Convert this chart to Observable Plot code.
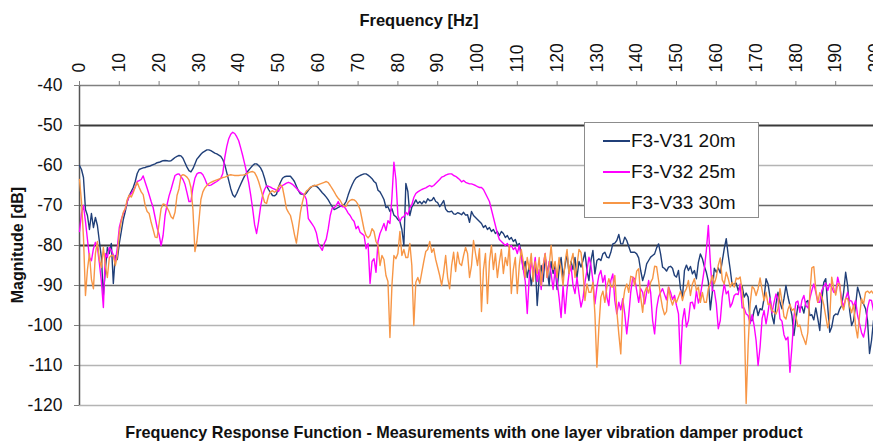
<!DOCTYPE html>
<html><head><meta charset="utf-8">
<script src="https://cdn.jsdelivr.net/npm/d3@7"></script>
<script src="https://cdn.jsdelivr.net/npm/@observablehq/plot@0.6"></script>
<style>
html,body{margin:0;padding:0;background:#fff;overflow:hidden;}
#wrap{position:relative;width:873px;height:441px;font-family:"Liberation Sans",Arial,sans-serif;color:#111;overflow:hidden;}
#chart svg{display:block;}
.lbl{position:absolute;font-weight:bold;line-height:1;white-space:nowrap;text-align:center;}
#title{left:319px;width:200px;top:12px;font-size:16.5px;}
#ylabel{left:-82px;width:200px;top:235px;height:20px;line-height:20px;font-size:16px;transform:rotate(-90deg);transform-origin:100px 10px;}
#caption{left:14px;width:900px;top:424px;font-size:16.2px;}
#legend{position:absolute;left:584px;top:122px;width:175px;height:96px;border:1px solid #8c8c8c;background:#fff;box-sizing:border-box;}
.item{position:absolute;left:0;height:22px;line-height:22px;font-size:19px;white-space:nowrap;}
.item span.sw{position:absolute;left:18px;top:10px;width:27px;height:1.6px;}
.item span.tx{position:absolute;left:46px;top:0;}
</style></head><body>
<div id="wrap"><div id="chart"></div>
<div class="lbl" id="title">Frequency [Hz]</div>
<div class="lbl" id="ylabel">Magnitude [dB]</div>
<div class="lbl" id="caption">Frequency Response Function - Measurements with one layer vibration damper product</div>
<div id="legend"></div></div>
<script>
const seriesNames = ["F3-V31 20m", "F3-V32 25m", "F3-V33 30m"];
const seriesColors = ["#203F78", "#FF00FF", "#F79646"];
const xTicks = [0,10,20,30,40,50,60,70,80,90,100,110,120,130,140,150,160,170,180,190,200];
const yTicks = [-40,-50,-60,-70,-80,-90,-100,-110,-120];
const freqStep = 0.5; // Hz between samples, first sample at 0 Hz

const v31 = [
-60,-61,-63,-71,-72.5,-76,-72,-75.5,-73,-75,-79,-83,-92.5,-86,-80.5,-82,-79.5,-89.5,-82.5,-83.5,
-79.5,-76.5,-73.5,-71.5,-69,-67.5,-66.5,-65.5,-64,-62,-61,-60.8,-60.6,-60.5,-60.3,-60.2,-60,-59.8,-59.6,-59.3,
-59.2,-59,-58.8,-58.75,-58.8,-58.9,-58.8,-58.4,-58,-57.7,-57.5,-57.6,-58.2,-59.3,-60.4,-61.3,-61.6,-60.8,-59.6,-58.4,
-57.8,-57.2,-56.7,-56.4,-56.1,-56.1,-56.3,-56.6,-56.9,-57.1,-57.4,-57.7,-58.5,-59.8,-61.8,-63.8,-65.8,-67.3,-67.9,-67,
-65.8,-64.7,-63.6,-62.6,-61.8,-61.2,-60.6,-60,-59.6,-59.6,-60,-60.6,-61.6,-63.2,-65.1,-66,-66.8,-67.5,-67.6,-67.2,
-65.4,-64.2,-63.2,-62.8,-62.7,-62.7,-62.7,-63.3,-64,-65.2,-66.3,-67.1,-67.2,-67.3,-66.9,-66.2,-65.6,-65.2,-65,-65.2,
-65.6,-66.2,-66.8,-67.3,-67.9,-68.6,-69.5,-70.3,-71,-70.8,-70.5,-70.2,-70,-69.8,-69,-67.4,-66,-64.8,-63.8,-63.1,
-62.8,-62.5,-62.3,-62.1,-62.1,-62.4,-62.8,-63.3,-64,-64.4,-66.2,-66.6,-67.5,-68.5,-70.5,-70.3,-71.5,-70.8,-72.4,-72.8,
-73.5,-74,-76,-80,-64.5,-66.5,-72.5,-70.4,-69.6,-68.6,-69.5,-69,-69.6,-68.9,-69.4,-68.3,-68.8,-68.7,-68,-69,
-69.3,-70.3,-69.6,-68.75,-70.9,-71.5,-71.6,-71.4,-72.1,-72.2,-71.8,-72,-72.3,-71.7,-72.4,-72.3,-74.2,-71.5,-72.5,-73,
-73.5,-74,-74.5,-75.5,-75,-76,-75.5,-76.5,-76,-77,-76.5,-77.5,-76.5,-77,-78,-77.5,-78.5,-78,-79,-78.5,
-80,-79.5,-82,-86,-84,-88,-85,-90,-87,-84,-95,-88,-85,-89,-83,-86,-90,-84,-87,-85,
-91,-86,-83,-88,-85,-82,-87,-84,-86,-83,-88,-84,-85.4,-83.75,-81.7,-86.25,-88.75,-83.75,-81.25,-87.1,
-83.75,-83.3,-83.75,-82.1,-81.7,-82.9,-83.1,-81.7,-79.6,-79.4,-78.75,-77.25,-79.6,-79.6,-77.9,-78.75,-80.25,-81.7,-81.7,-81.7,
-82.1,-83.1,-86.25,-88.75,-87.1,-84.6,-83.75,-82.9,-82.5,-82.1,-80.6,-79.6,-82.1,-85.4,-85.75,-86.4,-85.4,-85.2,-85.7,-87.5,
-87.9,-86.25,-90.8,-92.9,-86.25,-84.9,-86.25,-85.25,-87.1,-86.25,-88.3,-84.2,-82.1,-83.3,-85.25,-86.7,-89,-96.1,-91.7,-85.7,
-86.7,-85.6,-86.9,-83.9,-80.8,-78.3,-82.5,-86,-90,-89.6,-89.4,-91.25,-90.1,-90.25,-92.9,-91.9,-92.9,-98.75,-98.75,-96.25,
-95,-97.5,-95.8,-96.1,-93.3,-88.3,-89.6,-92.9,-97.5,-99.6,-94.6,-91.7,-94.2,-95.8,-93.3,-90,-92.75,-95,-97.5,-102.5,
-98.6,-95,-95.8,-95.25,-96.9,-94.2,-93.75,-97.5,-97.3,-98.6,-95.6,-98.3,-101.25,-93.75,-89.2,-88.3,-95.4,-101.7,-100.4,-97.6,
-97.1,-97.3,-95.9,-95,-91.7,-86.7,-90,-96.25,-100,-98.75,-95,-90.4,-92.1,-94,-94.6,-95.8,-98.75,-107,-103.75,-98.75,
-97];

const v32 = [
-76.5,-72,-70,-74,-78.5,-83,-83.8,-80.8,-79.2,-80.5,-84.5,-89,-95.5,-82,-83,-80.5,-81.2,-82.3,-84.2,-80.5,
-75.5,-73.5,-72,-70.8,-69,-67.6,-67,-66.3,-65.4,-64,-63.8,-63.5,-62.6,-64.2,-65.7,-67.3,-69,-70.5,-73,-75.5,
-77.3,-80,-77.5,-72.5,-69.8,-67.6,-66,-64.2,-62.5,-62.2,-62.1,-62.8,-63.5,-64.7,-66.8,-69,-69,-65.5,-63.2,-62.1,
-61.8,-61.8,-62.3,-63.3,-64.6,-65,-64.9,-64.6,-64.3,-64,-63.6,-63.2,-62,-58,-55.3,-53.3,-52.2,-51.7,-52,-52.8,
-53.8,-55.6,-57.5,-59.6,-61.8,-64.2,-67.3,-70.8,-74.8,-77,-74,-70.3,-67.5,-66,-65.1,-65.2,-65.4,-65.7,-65.9,-66.2,
-66.5,-65.5,-65,-64.7,-64.4,-64.2,-64.4,-64.7,-65.2,-65.7,-66.25,-66.7,-67.1,-67.4,-68.5,-73.3,-74,-74.7,-75.5,-76.8,
-79.3,-80.4,-81.2,-79.5,-78.4,-75.8,-72.5,-70.6,-70.6,-70,-69,-70,-70.3,-70.3,-71,-71.9,-72.5,-73.4,-74,-75.8,
-75.2,-76.7,-77.1,-77.5,-80.8,-79.5,-89.5,-84,-83.3,-86.7,-79,-77,-75.8,-74.5,-76.25,-73.8,-74.5,-68,-59.2,-63.5,
-72.5,-74,-73,-72.8,-71.7,-72.3,-70.6,-69.8,-68,-67,-66.6,-66.3,-66,-65.8,-65.6,-65.3,-65,-65.3,-65,-64.5,
-64,-63.5,-62.9,-62.7,-62.4,-62.2,-62.1,-62.1,-62.5,-62.7,-63.1,-63.5,-64.1,-63.75,-64.2,-64.4,-64.6,-64.6,-64.8,-65,
-65.3,-65.5,-65.5,-66,-67,-68,-69,-71,-73,-75,-77,-78.5,-79,-79.5,-80,-79.5,-80.5,-80,-81,-80.5,
-82,-80,-83,-86,-89,-97,-88,-84,-87,-83,-89,-86,-91,-85,-82,-88,-84,-87,-91,-86,
-89,-93,-98,-90,-97,-91,-87,-85,-90,-92,-88,-92,-95.4,-93.3,-89.2,-86.25,-82.9,-85,-88.75,-94.6,
-90.4,-87.5,-86.25,-89.2,-87.5,-92.9,-95,-88.75,-87.1,-93.75,-97.1,-94.2,-96.1,-93.3,-97.1,-102.1,-97.5,-91.7,-87.9,-88.3,
-91.25,-94.2,-90.8,-91.7,-94.6,-91.7,-88.75,-91.7,-98.75,-102.1,-95.8,-92.9,-91.7,-90.8,-92.25,-93.6,-90.4,-91.7,-93.5,-92.5,
-95,-97.1,-109.6,-98.75,-95.8,-100.4,-98.75,-94.3,-94.2,-95.8,-91.25,-94.4,-92.5,-89.2,-85.8,-81.25,-75,-84.2,-91.25,-91.25,
-94.6,-100.8,-98.75,-92.9,-89.6,-92.1,-91.4,-95.4,-94.4,-92.5,-92.1,-92.25,-89.6,-95.6,-95.6,-97.1,-97.5,-99.6,-97.3,-100,
-103.75,-110,-105.4,-98.3,-96.25,-99.6,-96.7,-93.1,-96.8,-94.3,-92.1,-93.3,-98.3,-98.9,-102.3,-103.6,-102.9,-111.7,-105.4,-97.9,
-94.2,-93.9,-96.7,-93.75,-92.5,-95,-95.6,-93.3,-91.25,-89.6,-91.7,-94.2,-94.2,-91.25,-90.25,-89.4,-91.25,-89.6,-90.4,-91.7,
-91.7,-87.9,-90,-93.6,-95.25,-93.3,-91.7,-93.75,-93.9,-95.25,-93.75,-97.5,-99.6,-101.8,-102.9,-100.4,-95.6,-93.6,-93.75,-96.25,
-95];

const v33 = [
-63.5,-69,-78,-92.5,-86,-82,-88.5,-90.8,-82,-79,-83.5,-85.5,-80.5,-85,-88,-83,-82.5,-82.5,-85,-82.5,
-77,-73.8,-71.7,-70.8,-68.5,-67.4,-67.9,-66.8,-65.4,-64.2,-65.5,-66.6,-67.3,-70,-71.5,-72,-74.2,-76,-77.9,-78,
-74.5,-70.8,-69.6,-69.8,-70.5,-71.5,-72.8,-73.3,-71.7,-67.5,-65.8,-62.6,-62.3,-62.5,-62.9,-63.6,-65.5,-71,-81.5,-79,
-74,-68.5,-66.6,-65.6,-65,-64.5,-64.2,-64,-63.8,-63.6,-63.4,-63.2,-63,-62.9,-62.7,-62.4,-62.3,-62.4,-62.5,-62.5,
-62.5,-62.4,-62.4,-62.3,-62.1,-61.8,-61.6,-61.5,-61.8,-62.7,-64,-65.7,-67.5,-69.2,-69.5,-67.5,-66.6,-66.3,-66.7,-66.3,
-65.4,-64.8,-65.5,-68,-70.8,-71.7,-72.5,-74.6,-77.2,-79.4,-75.8,-71.8,-69.2,-67.2,-66.4,-66,-65.4,-65.2,-65,-65,
-64.8,-64.6,-64.4,-64.2,-64,-64.3,-65,-65.8,-66.6,-67.5,-68.2,-68.75,-69.7,-70.2,-70.2,-69.2,-68.7,-68.5,-68.6,-69,
-69.8,-71,-73.5,-76,-77.5,-78.1,-77.5,-75.8,-76.5,-79,-80,-85,-82.5,-83.5,-87.5,-89,-103,-90,-82.5,-83.3,
-82,-76.5,-82.5,-81,-83,-83,-79.5,-85,-100,-89.2,-88,-89.5,-86.7,-84,-81.5,-81,-79,-81.7,-80.8,-83.5,
-85.5,-87.5,-90,-86.7,-82.5,-88,-90.8,-85,-81.7,-86.5,-81.7,-84.5,-85,-82.5,-80.5,-82,-88,-85,-78.75,-82,
-85,-80.8,-96.5,-86,-82,-94.5,-84,-80,-86,-82,-88,-84,-81,-87,-83,-85,-80,-92,-86,-83,
-92,-85,-81,-84,-88,-83,-86,-82,-89,-84,-87,-83,-90,-85,-82,-88,-85,-80,-86,-84,
-88,-83,-86,-90,-84,-81,-87,-84,-82,-88,-85,-81,-81.7,-86.25,-93.75,-89.6,-91.7,-91.7,-89.2,-97.1,
-110.4,-100.4,-92.9,-91.4,-94.2,-90.4,-88.3,-90.25,-90.4,-87.5,-96.25,-102.1,-107.1,-94.6,-91.1,-89.6,-91.7,-87.7,-87.9,-90,
-86.4,-85.8,-92.9,-96.7,-91.7,-90.4,-91.9,-89.2,-88.3,-85.2,-85.3,-88.75,-92.75,-95.6,-97.3,-96.5,-90.4,-93.3,-94.9,-93.3,
-94.2,-92.9,-91.4,-93.75,-91.7,-90.8,-88.75,-92.5,-89.6,-88.3,-91.25,-90.4,-94.2,-91.75,-94.2,-94.2,-90.75,-89.4,-87.5,-89.6,
-87.9,-84.9,-83.1,-88.6,-89.6,-86.7,-88.3,-90.4,-89.2,-90.4,-88.1,-88.4,-87.9,-91.4,-96.75,-119.5,-105,-94.6,-90.25,-90.8,
-92.5,-90.8,-88.1,-91.1,-93.75,-91.7,-94.75,-94.6,-96.3,-96.6,-97.1,-95.8,-90.8,-94,-97.75,-98.4,-96,-94.75,-96.25,-95.8,
-97.8,-100.25,-99.9,-102.1,-103.4,-104.75,-101.75,-92.1,-85.6,-85.3,-91,-94.2,-91.8,-92.8,-94.8,-97.7,-100.6,-98.3,-87.9,-90.7,
-92.4,-89.6,-89.6,-94.9,-96.1,-93.25,-93.25,-95.2,-96.8,-94.8,-100.25,-103.1,-97.5,-93.3,-94.6,-91.7,-91.4,-91.9,-91.4,-92.1,
-92];

const seriesValues = [v31, v32, v33];
const rows = seriesNames.flatMap((name, s) =>
  seriesValues[s].map((v, i) => ({series: name, f: i * freqStep, v})));

const darkGrid = [-50, -80];
const midGrid = [-70, -90];
const lightGrid = [-60, -100, -110, -120];

const chart = Plot.plot({
  width: 873,
  height: 441,
  marginTop: 85,
  marginBottom: 36,
  marginLeft: 79,
  marginRight: -2,
  style: {fontFamily: "Liberation Sans, Arial, sans-serif", fontSize: "17.5px", color: "#111", background: "transparent"},
  x: {domain: [0, 200]},
  y: {domain: [-120, -40]},
  color: {domain: seriesNames, range: seriesColors},
  marks: [
    Plot.ruleY(lightGrid, {stroke: "#b4b4b4", strokeWidth: 1.5}),
    Plot.ruleY(midGrid, {stroke: "#6a6a6a", strokeWidth: 1.3}),
    Plot.ruleY(darkGrid, {stroke: "#3a3a3a", strokeWidth: 1.8}),
    Plot.ruleY([-40], {stroke: "#808080", strokeWidth: 1.3}),
    Plot.ruleX([0], {stroke: "#555", strokeWidth: 1.5}),
    Plot.line(rows, {x: "f", y: "v", z: "series", stroke: "series", strokeWidth: 1.4}),
    Plot.axisX({anchor: "top", ticks: xTicks, tickSize: 5, tickPadding: 8, tickRotate: -90,
      tickFormat: d => String(d), label: null, stroke: "#808080", fill: "#111"}),
    Plot.axisY({anchor: "left", ticks: yTicks, tickSize: 5, tickPadding: 12,
      tickFormat: d => String(d), label: null, stroke: "#808080", fill: "#111"})
  ]
});
document.getElementById("chart").append(chart);

const legend = document.getElementById("legend");
seriesNames.forEach((name, i) => {
  const item = document.createElement("div");
  item.className = "item";
  item.style.top = (7 + i * 31) + "px";
  const sw = document.createElement("span");
  sw.className = "sw";
  sw.style.background = seriesColors[i];
  const tx = document.createElement("span");
  tx.className = "tx";
  tx.textContent = name;
  item.append(sw, tx);
  legend.append(item);
});
</script>
</body></html>
